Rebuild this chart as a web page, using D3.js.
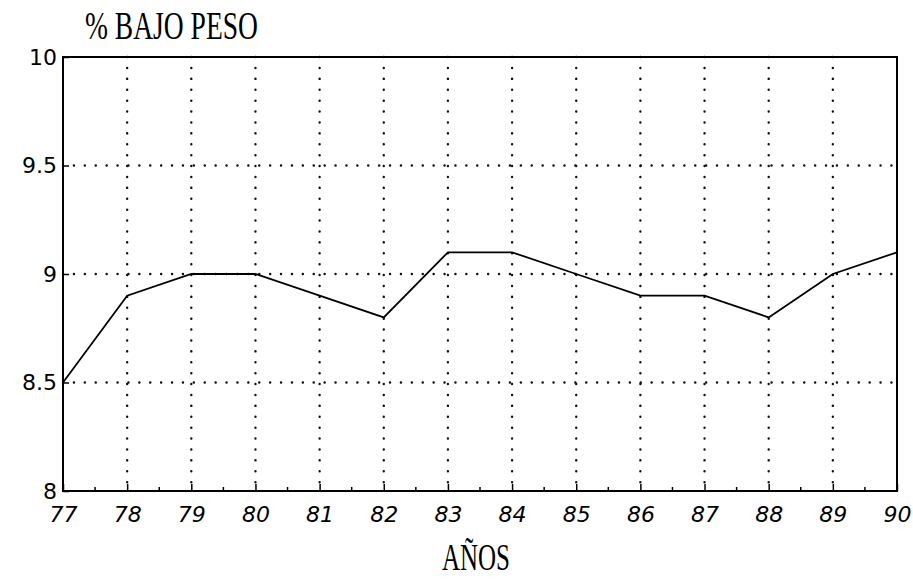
<!DOCTYPE html>
<html>
<head>
<meta charset="utf-8">
<script src="https://cdn.jsdelivr.net/npm/d3@7"></script>
<style>
  body { margin: 0; background: #fff; }
  svg { display: block; }
</style>
</head>
<body>
<script>
const years = [77, 78, 79, 80, 81, 82, 83, 84, 85, 86, 87, 88, 89, 90]
const bajoPeso = [8.5, 8.9, 9.0, 9.0, 8.9, 8.8, 9.1, 9.1, 9.0, 8.9, 8.9, 8.8, 9.0, 9.1]
const yTicks = [8, 8.5, 9, 9.5, 10]
const yLabels = ["8", "8.5", "9", "9.5", "10"]

const w = 913
const h = 579
const padLeft = 63, padRight = 897, padTop = 57, padBottom = 491

const svg = d3.select("body")
  .append("svg")
  .attr("width", w)
  .attr("height", h)

const xScale = d3.scaleLinear()
  .domain([77, 90])
  .range([padLeft, padRight])

const yScale = d3.scaleLinear()
  .domain([8, 10])
  .range([padBottom, padTop])

// dotted grid
svg.append("g")
  .selectAll("line")
  .data(years.slice(1, -1))
  .enter()
  .append("line")
  .attr("x1", d => xScale(d))
  .attr("x2", d => xScale(d))
  .attr("y1", padTop)
  .attr("y2", padBottom)
  .attr("stroke", "#111")
  .attr("stroke-width", 2.4)
  .attr("stroke-linecap", "round")
  .attr("stroke-dasharray", "0.1,10.8")

svg.append("g")
  .selectAll("line")
  .data(yTicks.slice(1, -1))
  .enter()
  .append("line")
  .attr("x1", padLeft)
  .attr("x2", padRight)
  .attr("y1", d => yScale(d))
  .attr("y2", d => yScale(d))
  .attr("stroke", "#111")
  .attr("stroke-width", 2.4)
  .attr("stroke-linecap", "round")
  .attr("stroke-dasharray", "0.1,10.8")

// frame
svg.append("rect")
  .attr("x", padLeft)
  .attr("y", padTop)
  .attr("width", padRight - padLeft)
  .attr("height", padBottom - padTop)
  .attr("fill", "none")
  .attr("stroke", "#000")
  .attr("stroke-width", 2)

// axes, ticks pointing inside
const xAxis = d3.axisBottom(xScale)
  .tickValues(years)
  .tickSizeInner(-7)
  .tickSizeOuter(0)
  .tickPadding(15)
  .tickFormat(d => d)

const gx = svg.append("g")
  .attr("id", "x-axis")
  .attr("transform", `translate(0, ${padBottom})`)
  .call(xAxis)
gx.select(".domain").remove()
gx.selectAll("line").attr("stroke-width", 1.5)
gx.selectAll("text")
  .attr("font-family", "'DejaVu Sans', sans-serif")
  .attr("font-size", 22)
  .attr("font-style", "italic")
  .attr("fill", "#000")

// minor ticks at half years
svg.append("g")
  .selectAll("line")
  .data(years.slice(0, -1))
  .enter()
  .append("line")
  .attr("x1", d => xScale(d + 0.5))
  .attr("x2", d => xScale(d + 0.5))
  .attr("y1", padBottom)
  .attr("y2", padBottom - 4)
  .attr("stroke", "#000")
  .attr("stroke-width", 1.5)

const yAxis = d3.axisLeft(yScale)
  .tickValues(yTicks)
  .tickSizeInner(-6)
  .tickSizeOuter(0)
  .tickPadding(6)
  .tickFormat((d, i) => yLabels[i])

const gy = svg.append("g")
  .attr("id", "y-axis")
  .attr("transform", `translate(${padLeft}, 0)`)
  .call(yAxis)
gy.select(".domain").remove()
gy.selectAll("line").attr("stroke-width", 1.5)
gy.selectAll("text")
  .attr("font-family", "'DejaVu Sans', sans-serif")
  .attr("font-size", 22)
  .attr("fill", "#000")

// data line
const line = d3.line()
  .x((d, i) => xScale(years[i]))
  .y(d => yScale(d))

svg.append("path")
  .datum(bajoPeso)
  .attr("d", line)
  .attr("fill", "none")
  .attr("stroke", "#000")
  .attr("stroke-width", 1.8)

// titles
svg.append("text")
  .attr("x", 85)
  .attr("y", 39)
  .attr("font-family", "'Liberation Serif', 'Times New Roman', serif")
  .attr("font-size", 39)
  .attr("textLength", 173)
  .attr("lengthAdjust", "spacingAndGlyphs")
  .text("% BAJO PESO")

svg.append("text")
  .attr("x", 442)
  .attr("y", 570)
  .attr("font-family", "'Liberation Serif', 'Times New Roman', serif")
  .attr("font-size", 38)
  .attr("textLength", 68)
  .attr("lengthAdjust", "spacingAndGlyphs")
  .text("AÑOS")
</script>
</body>
</html>
